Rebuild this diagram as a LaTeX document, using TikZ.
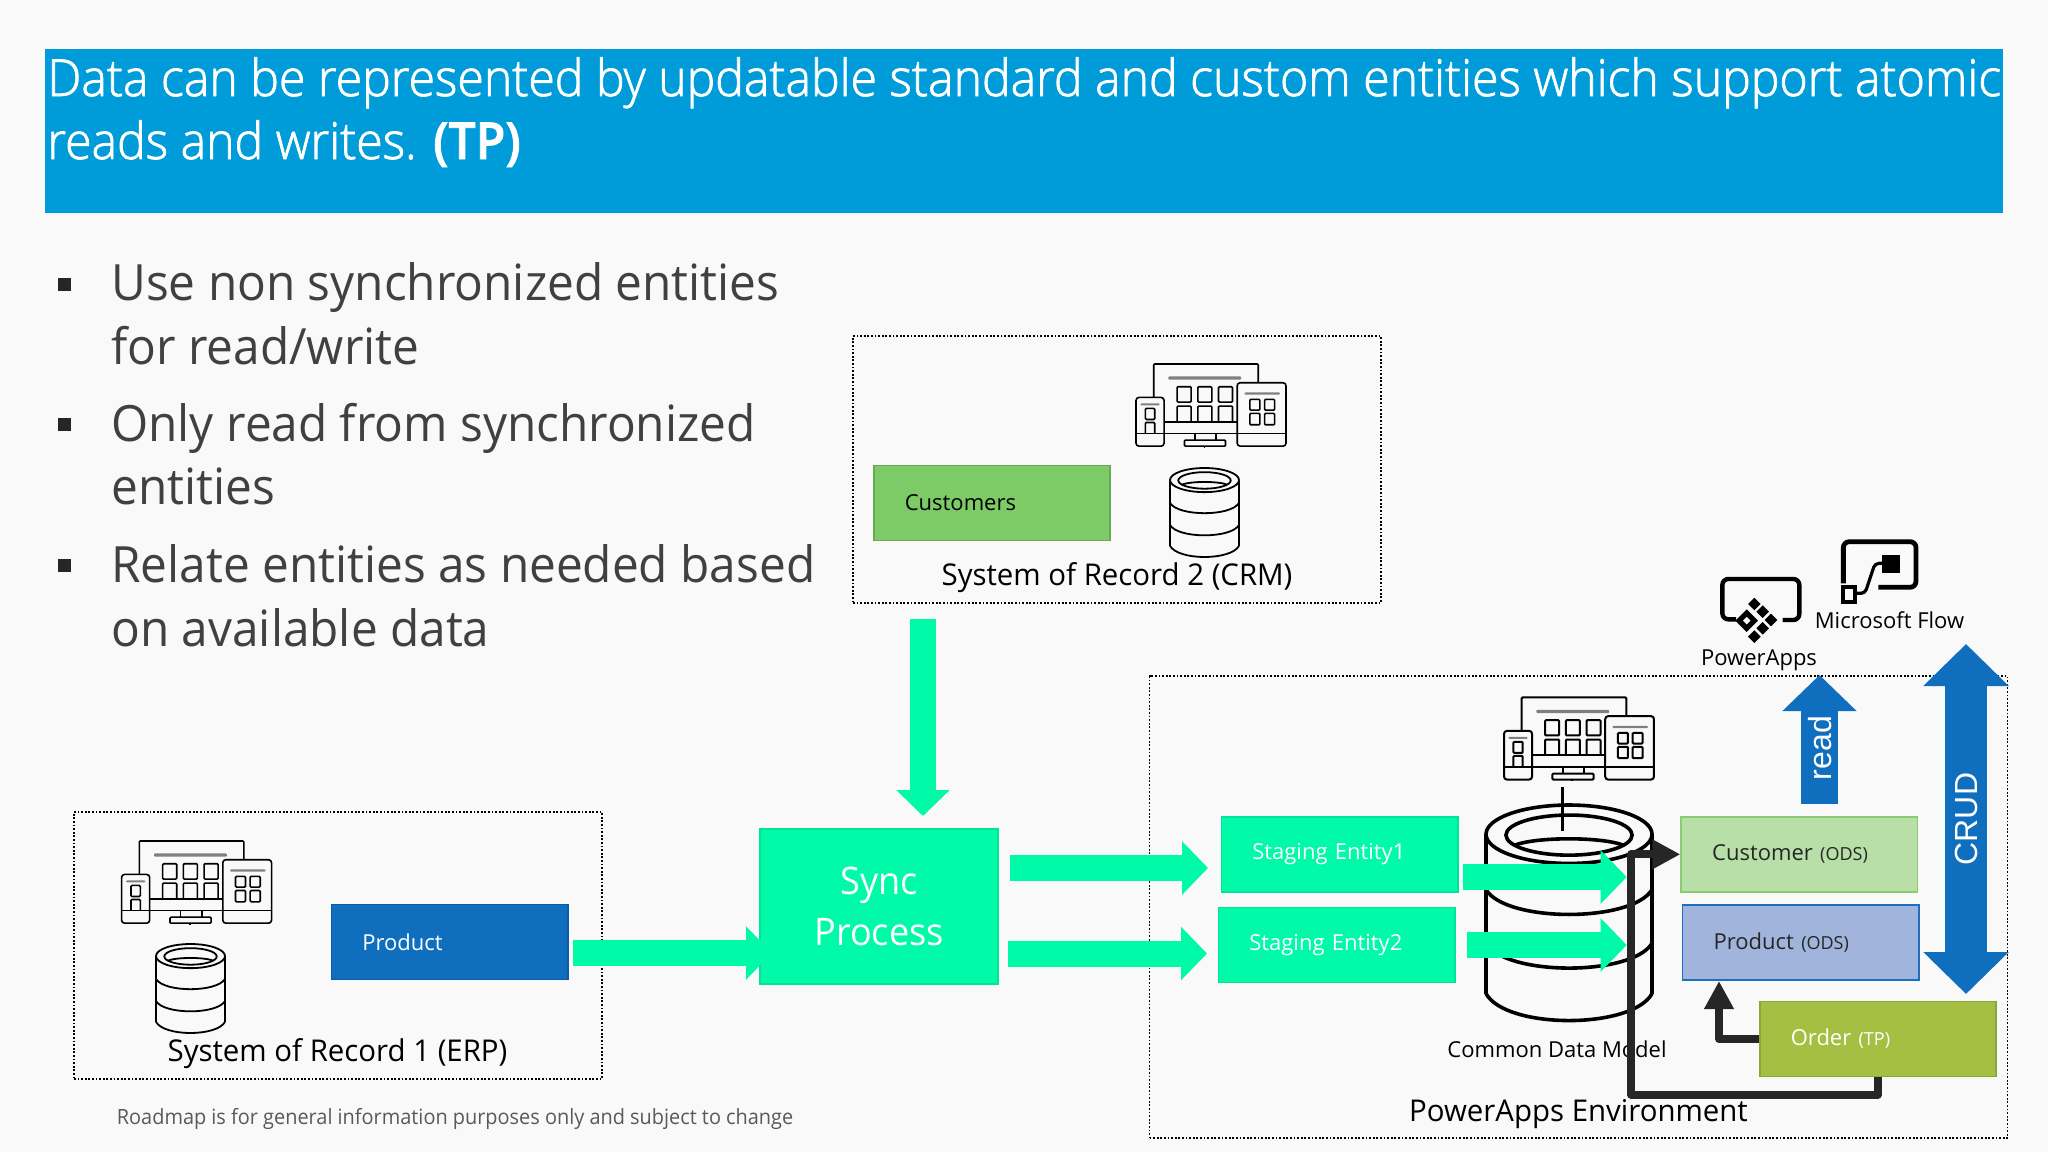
\documentclass[tikz,border=0pt]{standalone}
\usepackage{fontspec}
\setmainfont{Open Sans}
\newfontfamily\titlefont{Open Sans Light}[FakeStretch=0.944,FakeBold=1.5,BoldFont=Open Sans Semibold]
\newfontfamily\lblfont{Open Sans}[FakeStretch=1.0]
\newfontfamily\sysfont{Open Sans}[FakeStretch=0.98]
\newfontfamily\roadfont{Open Sans}[FakeStretch=0.948]
\newfontfamily\syncfont{Open Sans}[FakeStretch=0.95]
\newfontfamily\bulfont{Open Sans}[FakeStretch=0.955]
\newfontfamily\arwfont{Liberation Sans}
\usetikzlibrary{arrows.meta}
\definecolor{bgc}{HTML}{F9F9F9}
\definecolor{hdr}{HTML}{009BD9}
\definecolor{sgreen}{HTML}{00FAA8}
\definecolor{sgreenb}{HTML}{00E39A}
\definecolor{azure}{HTML}{106EBE}
\definecolor{azureb}{HTML}{0B5CA5}
\definecolor{cust}{HTML}{7DCB66}
\definecolor{custb}{HTML}{67A955}
\definecolor{lgreen}{HTML}{B8DFA8}
\definecolor{lgreenb}{HTML}{8CCB70}
\definecolor{lblue}{HTML}{A0B4DC}
\definecolor{lblueb}{HTML}{1F6FC0}
\definecolor{olive}{HTML}{A4BF42}
\definecolor{oliveb}{HTML}{8AA838}
\definecolor{dark}{HTML}{262626}
\definecolor{bultxt}{HTML}{404040}
\definecolor{roadc}{HTML}{595959}
\tikzset{
  x=0.5pt,y=-0.5pt,
  dotbox/.style={draw=black,line width=0.9pt,dash pattern=on 0.9pt off 0.9pt,rectangle,inner sep=0pt},
  ent/.style={rectangle,line width=0.8pt,minimum height=37.6pt,text width=87.2pt,inner xsep=15.5pt,inner ysep=0pt,align=left,font=\lblfont\fontsize{11}{13}\selectfont},
  syslbl/.style={font=\sysfont\fontsize{15}{18}\selectfont,text=black,inner sep=0pt},
  smalllbl/.style={font=\lblfont\fontsize{11}{13}\selectfont,text=black,inner sep=0pt},
  gblock/.style={draw=sgreen,line width=13pt,-{Triangle[length=13pt,width=26pt]}},
  darkconn/.style={draw=dark,line width=3.9pt,line join=round,-{Triangle[length=14pt,width=14pt]}},
  bul/.style={font=\bulfont\fontsize{25}{30}\selectfont,text=bultxt,anchor=base west,inner sep=0pt},
  ttl/.style={font=\titlefont\fontsize{25.5}{30}\selectfont,text=white,anchor=base west,inner sep=0pt},
  bsq/.style={fill=dark,draw=none,rectangle,minimum size=6.5pt,inner sep=0pt},
}
\newcommand{\DevIcon}[4]{%
\begin{scope}[shift={(#1,#2)},scale=#3]
\begin{scope}[shift={(-17,-12)},line width=#4,draw=black,rounded corners=0.5pt]
\draw (70,112)--(70,12)--(383,12)--(383,68);
\draw (101,185)--(320,185) (101,220)--(320,220);
\draw[rounded corners=1.5pt] (17,112) rectangle (101,258);
\draw (17,220)--(101,220);
\draw[rounded corners=1.5pt] (320,68) rectangle (466,258);
\draw (320,220)--(466,220);
\draw (193,220)--(193,240) (257,220)--(257,240);
\draw (162,240) rectangle (285,258);
\draw (222,258)--(222,262);
\fill[gray] (114,49) rectangle (332,59);
\fill[gray] (342,97) rectangle (448,104);
\fill[gray] (30,130) rectangle (88,136);
\foreach \q in {140,202,264}{\draw (\q,80) rectangle (\q+42,126);
  \draw (\q,185)--(\q,138)--(\q+42,138)--(\q+42,185);}
\draw (358,118) rectangle (388,150) (402,118) rectangle (432,150);
\draw (358,160) rectangle (388,194) (402,160) rectangle (432,194);
\draw (45,145) rectangle (73,178);
\draw (45,220)--(45,187)--(73,187)--(73,220);
\end{scope}\end{scope}}
\newcommand{\DbCyl}[5]{%
\begin{scope}[shift={(#1,#2)},xscale=#3,yscale=#4,line width=#5,draw=black]
\draw (0.5,0.134) ellipse [x radius=0.5,y radius=0.134];
\draw (0.5,0.138) ellipse [x radius=0.38,y radius=0.092];
\draw (0.17,0.185) .. controls (0.3,0.145) and (0.7,0.145) .. (0.83,0.185);
\draw (0,0.134)--(0,0.865) (1,0.134)--(1,0.865);
\draw (0,0.388) .. controls (0.12,0.54) and (0.88,0.54) .. (1,0.388);
\draw (0,0.634) .. controls (0.12,0.786) and (0.88,0.786) .. (1,0.634);
\draw (0,0.865) .. controls (0.12,1.03) and (0.88,1.03) .. (1,0.865);
\end{scope}}
\newcommand{\DiamFill}[3]{\fill (#1-#3,#2)--(#1,#2-#3)--(#1+#3,#2)--(#1,#2+#3)--cycle;}
\begin{document}
\begin{tikzpicture}
\useasboundingbox (0,0) rectangle (2048,1152);
\fill[bgc] (0,0) rectangle (2048,1152);
% header
\fill[hdr] (44.5,48.5) rectangle (2003,213);
\node[ttl] (t1) at (47,96) {Data can be represented by updatable standard and custom entities which support atomic};
\node[ttl] (t2) at (47,159) {reads and writes. \textbf{(TP)}};
% bullets
\node[bsq] (b1) at (64,284) {};
\node[bsq] (b2) at (64,424) {};
\node[bsq] (b3) at (64,565) {};
\node[bul] (l1) at (111,300.5) {Use non synchronized entities};
\node[bul] (l2) at (111,364.5) {for read/write};
\node[bul] (l3) at (111,441.5) {Only read from synchronized};
\node[bul] (l4) at (111,504.5) {entities};
\node[bul] (l5) at (111,582.5) {Relate entities as needed based};
\node[bul] (l6) at (111,646.5) {on available data};
% CRM group
\node[dotbox,minimum width=264pt,minimum height=133.5pt] (crm) at (1117,469.5) {};
\node[ent,fill=cust,draw=custb,text=black] (customers) at (992,503) {Customers};
\DevIcon{1136}{364}{0.334}{0.8pt}
\DbCyl{1170}{468}{69}{90}{0.9pt}
\node[syslbl] (crml) at (1117,578) {System of Record 2 (CRM)};
% ERP group
\node[dotbox,minimum width=264pt,minimum height=133.5pt] (erp) at (338,945.5) {};
\node[ent,fill=azure,draw=azureb,text=white] (product) at (449.5,942) {Product};
\DevIcon{121.6}{841}{0.334}{0.8pt}
\DbCyl{156}{944}{69}{90}{0.9pt}
\node[syslbl] (erpl) at (337.5,1054) {System of Record 1 (ERP)};
\node[font=\roadfont\fontsize{10.5}{13}\selectfont,text=roadc,anchor=west,inner sep=0pt] (road) at (116.5,1119) {Roadmap is for general information purposes only and subject to change};
% PowerApps env
\node[dotbox,minimum width=429pt,minimum height=231pt] (env) at (1578.5,907) {};
% sync
\node[rectangle,fill=sgreen,draw=sgreenb,line width=0.8pt,minimum width=119pt,minimum height=77.5pt,align=center,text=white,font=\syncfont\fontsize{19}{25.5}\selectfont,inner sep=0pt] (sync) at (879,906.5) {Sync\\Process};
% staging
\node[ent,fill=sgreen,draw=sgreenb,text=white] (st1) at (1339.5,854.3) {Staging Entity1};
\node[ent,fill=sgreen,draw=sgreenb,text=white] (st2) at (1336.5,945) {Staging Entity2};
% database
\DevIcon{1504}{697.4}{0.334}{1.0pt}
\DbCyl{1486}{805}{166}{218}{1.8pt}
\coordinate (lnA) at (1562,787);
\coordinate (lnB) at (1562,831);
\draw[black,line width=1.5pt] (lnA)--(lnB);
% ODS boxes
\node[ent,fill=lgreen,draw=lgreenb,text=dark] (customer) at (1799.3,854.3) {Customer {\fontsize{9}{11}\selectfont (ODS)}};
\node[ent,fill=lblue,draw=lblueb,text=dark] (productods) at (1800.8,942.5) {Product {\fontsize{9}{11}\selectfont (ODS)}};
\node[ent,fill=olive,draw=oliveb,text=white] (order) at (1878,1039) {Order {\fontsize{9}{11}\selectfont (TP)}};
% labels
\node[smalllbl] (cdm) at (1557,1049) {Common Data Model};
\node[syslbl] (envl) at (1578.5,1114) {PowerApps Environment};
\node[smalllbl] (pal) at (1759,660) {PowerApps};
\node[smalllbl] (mfl) at (1889.5,620) {Microsoft Flow};
% green connectors
\coordinate (crmOut) at (923,619);
\coordinate (syncIn) at (923,816);
\draw[gblock] (crmOut)--(syncIn);
\coordinate (prOut) at (573,953);
\coordinate (syIn) at (772,953);
\draw[gblock] (prOut)--(syIn);
\coordinate (s1a) at (1010,868);
\coordinate (s1b) at (1208,868);
\draw[gblock] (s1a)--(s1b);
\coordinate (s2a) at (1008,953.5);
\coordinate (s2b) at (1207,953.5);
\draw[gblock] (s2a)--(s2b);
\coordinate (d1a) at (1462.7,877);
\coordinate (d1b) at (1626.7,877);
\draw[gblock] (d1a)--(d1b);
\coordinate (d2a) at (1466.7,945);
\coordinate (d2b) at (1626.7,945);
\draw[gblock] (d2a)--(d2b);
% dark connectors
\coordinate (cornerA) at (1631,1094.6);
\coordinate (cornerB) at (1631,854.3);
\draw[darkconn] (order.south) |- (cornerA) -- (cornerB) -- (customer.west);
\coordinate (prodIn) at (1719,981);
\draw[darkconn] (order.west) -| (prodIn);
% blue arrows
\coordinate (rdA) at (1819.5,803.5);
\coordinate (rdB) at (1819.5,675);
\draw[azure,line width=18.5pt,-{Triangle[length=18pt,width=36pt]}] (rdA)--(rdB);
\node[rotate=90,text=white,font=\arwfont\fontsize{16}{19}\selectfont,inner sep=0pt] (rdl) at (1820,748) {read};
\coordinate (crA) at (1966,644);
\coordinate (crB) at (1966,994);
\draw[azure,line width=21pt,{Triangle[length=21pt,width=41.5pt]}-{Triangle[length=21pt,width=41.5pt]}] (crA)--(crB);
\node[rotate=90,text=white,font=\arwfont\fontsize{16}{19}\selectfont,inner sep=0pt] (crl) at (1966,819) {CRUD};
% PowerApps icon
\begin{scope}[shift={(1710,530)},scale=0.3333,fill=black]
\draw[black,line width=2.2pt,rounded corners=3pt] (78,268)--(37,268)--(37,147)--(268,147)--(268,270)--(218,270);
\fill[even odd rule] (76,272)--(110,238)--(144,272)--(110,306)--cycle (98,272)--(110,260)--(122,272)--(110,284)--cycle;
\DiamFill{133}{222}{19}
\DiamFill{158}{245}{19}
\DiamFill{183}{270}{19}
\DiamFill{158}{295}{19}
\DiamFill{133}{320}{19}
% Flow icon
\draw[black,line width=2.4pt,rounded corners=3pt] (400,160)--(400,35)--(618,35)--(618,172)--(505,172);
\fill (517,75) rectangle (570,130);
\draw[black,line width=2pt] (398,172) rectangle (436,216);
\draw[black,line width=1.6pt,rounded corners=2pt] (438,190)--(465,190)--(495,100)--(517,100);
\end{scope}
\end{tikzpicture}
\end{document}
